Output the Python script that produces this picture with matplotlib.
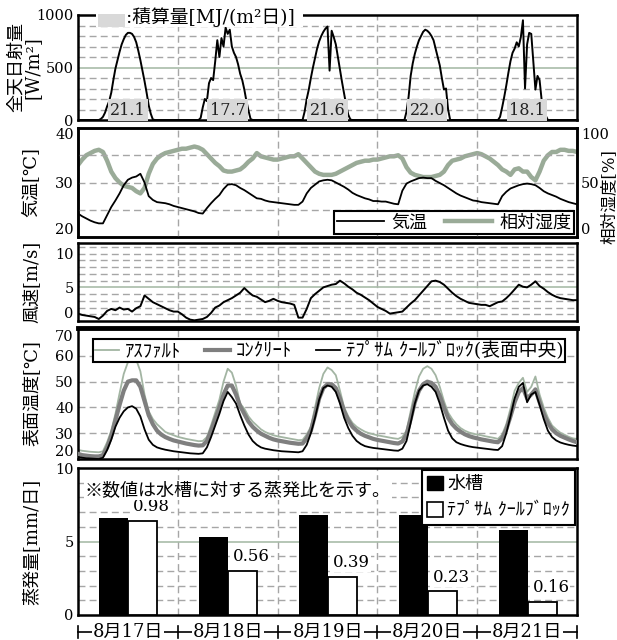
import numpy as np
import matplotlib
matplotlib.use('Agg')
import matplotlib.pyplot as plt
from matplotlib.lines import Line2D
from matplotlib.patches import Patch, Rectangle
import matplotlib.transforms as mtransforms

plt.rcParams['font.family'] = ['DejaVu Serif', 'Noto Sans CJK JP']
plt.rcParams['font.size'] = 13

# ---------------- data ----------------
days = ['8月17日', '8月18日', '8月19日', '8月20日', '8月21日']
daily_total = ['21.1', '17.7', '21.6', '22.0', '18.1']

# solar radiation, half-hourly, per day: (start hour, values)
rad_start = [5.0, 5.0, 6.0, 6.5, 5.0]
rad_d1 = [0, 10, 30, 70, 130, 180, 260, 380, 490, 570, 650, 720, 770, 810, 830, 830,
          820, 790, 740, 660, 570, 470, 370, 260, 140, 60, 5, 0]
rad_d2 = [0, 20, 120, 200, 180, 350, 400, 380, 560, 760, 600, 780, 700, 880, 820, 860,
          700, 640, 600, 530, 440, 380, 290, 180, 90, 10, 0]
rad_d3 = [0, 80, 200, 290, 400, 500, 590, 680, 750, 800, 840, 870, 890, 470, 850, 790,
          720, 600, 480, 360, 250, 140, 50, 5, 0]
rad_d4 = [0, 80, 220, 420, 540, 630, 700, 760, 800, 840, 860, 850, 830, 800, 760, 680,
          600, 520, 400, 290, 300, 100, 0]
rad_d5 = [0, 30, 120, 220, 330, 450, 560, 640, 680, 740, 700, 790, 950, 300, 720, 830,
          820, 560, 290, 420, 380, 190, 30, 40, 0]

# hourly series, t = 0..120 h
air_temp = [24.3, 23.8, 23.4, 23.0, 22.7, 22.5, 22.5, 24.0, 25.5, 26.7, 28.0, 29.5, 30.5, 30.9, 31.1, 31.6, 30.0, 27.5, 26.8, 26.4, 26.3, 26.2, 26.0, 25.7,
            25.5, 25.3, 25.1, 24.9, 24.7, 24.4, 24.3, 25.3, 26.2, 27.0, 27.7, 28.8, 29.6, 29.7, 29.5, 29.0, 28.6, 28.1, 27.6, 27.1, 27.0, 26.7, 26.5, 26.4,
            26.3, 26.2, 26.1, 26.0, 25.9, 25.9, 26.5, 28.0, 29.0, 29.6, 30.2, 30.4, 30.5, 30.4, 30.0, 29.6, 29.2, 28.7, 28.1, 27.7, 27.4, 27.1, 26.9, 26.6,
            26.6, 26.5, 26.5, 26.3, 26.1, 26.0, 28.5, 29.8, 30.2, 30.5, 30.8, 30.9, 30.8, 30.8, 30.3, 29.9, 29.5, 29.0, 28.5, 28.0, 27.6, 27.3, 27.0, 26.7,
            26.6, 26.4, 26.3, 26.2, 26.1, 26.0, 27.5, 28.3, 28.9, 29.2, 29.5, 29.7, 29.8, 29.7, 29.5, 29.0, 28.4, 28.0, 27.7, 27.4, 27.0, 26.7, 26.4, 26.2, 26.0]
rel_hum = [66, 71, 75, 77, 79, 80, 78, 70, 60, 54, 50, 47, 46, 45, 42, 40, 45, 58, 67, 72, 75, 77, 78, 79,
           80, 81, 81, 82, 83, 82, 80, 76, 72, 68, 65, 61, 60, 60, 61, 62, 65, 69, 72, 77, 74, 73, 72, 71,
           71, 72, 73, 74, 74, 76, 72, 68, 64, 60, 58, 57, 57, 57, 58, 60, 62, 64, 66, 68, 69, 70, 70, 71,
           71, 72, 73, 74, 74, 75, 72, 64, 59, 57, 56, 55, 55, 55, 56, 57, 60, 66, 70, 71, 72, 74, 75, 76,
           77, 76, 74, 72, 69, 66, 62, 60, 57, 62, 63, 60, 60, 55, 52, 60, 70, 75, 78, 78, 80, 80, 79, 79, 78]
wind = [1.1, 0.9, 0.8, 0.7, 0.6, 0.3, 0.8, 1.5, 1.8, 1.6, 2.0, 1.7, 1.8, 1.4, 1.9, 2.2, 3.8, 3.3, 2.8, 2.5, 2.2, 1.9, 1.6, 1.4,
        1.4, 1.0, 0.5, 0.2, 0.1, 0.2, 0.3, 0.6, 1.2, 2.0, 2.3, 2.8, 3.1, 3.4, 3.8, 4.2, 4.9, 4.3, 3.8, 3.6, 3.2, 2.8, 3.0, 3.3,
        3.0, 2.8, 2.7, 2.6, 2.4, 0.5, 0.5, 1.8, 3.4, 4.0, 4.5, 5.0, 5.2, 5.4, 5.5, 6.0, 5.6, 5.1, 4.7, 4.2, 3.9, 3.5, 3.1, 2.6,
        2.1, 1.8, 1.5, 1.1, 1.2, 1.3, 1.4, 2.0, 2.6, 3.1, 3.8, 4.5, 5.2, 5.9, 6.0, 5.8, 5.4, 4.8, 4.2, 3.7, 3.3, 3.0, 2.7, 2.6,
        2.5, 2.4, 2.4, 2.2, 2.5, 2.8, 2.9, 3.4, 4.0, 4.7, 5.4, 5.1, 5.0, 5.4, 5.9, 5.2, 4.8, 4.3, 3.9, 3.6, 3.4, 3.3, 3.2, 3.1, 3.1]
asphalt = [23.5, 23.2, 23.0, 22.8, 22.7, 22.6, 23.0, 26.5, 31.0, 37.5, 45.5, 53.0, 57.5, 59.5, 58.5, 54.0, 45.0, 38.5, 35.5, 33.5, 32.0, 30.5, 29.8, 29.2,
           28.6, 28.2, 27.8, 27.5, 27.2, 26.9, 27.0, 28.5, 33.0, 38.0, 43.0, 50.0, 55.0, 53.5, 48.5, 41.5, 39.5, 36.5, 34.5, 33.0, 31.5, 30.5, 29.8, 29.2,
           28.8, 28.5, 28.2, 27.9, 27.6, 27.3, 27.4, 29.5, 32.5, 40.0, 47.5, 53.0, 55.5, 54.5, 52.5, 46.5, 40.0, 36.5, 34.0, 32.5, 31.5, 30.6, 30.0, 29.6,
           29.2, 28.9, 28.6, 28.3, 28.0, 27.8, 28.6, 31.0, 38.5, 46.0, 52.0, 55.0, 56.0, 55.0, 52.5, 48.0, 42.5, 38.0, 35.5, 33.5, 32.0, 31.0, 30.3, 29.8,
           29.5, 29.2, 28.8, 28.5, 28.2, 27.8, 29.5, 33.5, 39.5, 46.5, 49.5, 51.5, 46.0, 48.0, 52.0, 45.0, 40.0, 36.0, 33.0, 31.5, 30.2, 29.4, 28.6, 28.0, 27.8]
concrete = [22.0, 21.5, 21.3, 21.1, 21.0, 21.0, 21.5, 24.5, 29.0, 35.0, 41.0, 46.5, 50.0, 50.5, 50.5, 48.0, 42.5, 37.0, 33.5, 31.0, 29.5, 28.5, 27.8, 27.2,
            26.8, 26.4, 26.0, 25.7, 25.4, 25.2, 25.3, 27.0, 31.0, 35.5, 40.0, 45.0, 48.5, 48.5, 45.0, 40.5, 37.5, 34.5, 32.5, 31.0, 29.8, 29.0, 28.2, 27.6,
            27.2, 26.9, 26.6, 26.3, 26.1, 25.9, 26.0, 28.0, 31.0, 37.0, 43.5, 47.5, 49.0, 49.0, 47.5, 43.5, 38.5, 35.0, 32.5, 31.0, 29.8, 29.0, 28.4, 27.8,
            27.4, 27.1, 26.8, 26.5, 26.2, 26.0, 26.8, 29.5, 35.5, 42.0, 46.5, 49.0, 50.0, 49.5, 48.0, 44.5, 40.0, 36.0, 33.5, 31.8, 30.6, 29.6, 28.9, 28.4,
            28.0, 27.6, 27.3, 27.0, 26.7, 26.5, 28.0, 31.5, 36.5, 42.0, 46.0, 47.5, 43.5, 45.0, 47.0, 42.0, 37.5, 34.0, 31.5, 30.0, 29.0, 28.3, 27.6, 27.0, 26.5]
block = [20.8, 20.5, 20.3, 20.2, 20.1, 20.0, 20.5, 23.5, 27.5, 32.5, 36.0, 38.5, 40.0, 40.5, 39.5, 36.5, 31.5, 27.5, 25.5, 24.5, 24.0, 23.6, 23.3, 23.0,
         22.8, 22.6, 22.4, 22.2, 22.1, 22.0, 22.2, 24.5, 28.5, 33.0, 37.5, 42.5, 46.0, 44.0, 41.5, 37.0, 33.0, 29.5, 27.0, 25.5, 24.5, 24.0, 23.7, 23.4,
         23.2, 23.0, 22.9, 22.8, 22.7, 22.6, 23.0, 25.5, 30.0, 36.0, 43.0, 47.5, 48.5, 48.0, 46.0, 41.5, 36.0, 32.0, 29.0, 27.0, 25.8, 25.0, 24.6, 24.3,
         24.1, 23.9, 23.7, 23.5, 23.3, 23.2, 24.0, 27.0, 34.0, 41.5, 46.5, 48.5, 49.0, 48.0, 46.0, 41.5, 36.0, 31.0, 28.0, 26.5, 25.8, 25.3, 24.9, 24.6,
         24.4, 24.2, 24.0, 23.8, 23.6, 23.5, 25.0, 30.0, 36.5, 43.5, 48.0, 49.5, 42.0, 45.0, 46.0, 41.0, 35.5, 31.0, 28.5, 27.2, 26.4, 25.9, 25.5, 25.2, 25.0]

evap_tank = [6.6, 5.3, 6.8, 6.8, 5.8]
evap_block = [6.4, 3.0, 2.6, 1.6, 0.9]
evap_ratio = ['0.98', '0.56', '0.39', '0.23', '0.16']

# ---------------- assemble time axes ----------------
t_half = np.arange(241) * 0.5 / 24.0
rad = np.zeros(241)
for i, (s, vals) in enumerate(zip(rad_start, [rad_d1, rad_d2, rad_d3, rad_d4, rad_d5])):
    i0 = int(round((i * 24 + s) * 2))
    rad[i0:i0 + len(vals)] = vals
t_hour = np.arange(121) / 24.0

# ---------------- figure ----------------
W, H = 617, 640
fig = plt.figure(figsize=(W / 100, H / 100), dpi=100)
L, R = 78, 577
TICK_FS = 10.5
YLAB_X = -0.093


def make_ax(top, bottom):
    return fig.add_axes([L / W, 1 - bottom / H, (R - L) / W, (bottom - top) / H])


GRID = '#a6a6a6'
GREEN = '#a9bca9'


def style(ax, ylim, dashed, solid=()):
    ax.set_xlim(0, 5)
    ax.set_ylim(*ylim)
    ax.set_xticks([])
    for x in range(1, 5):
        ax.axvline(x, color=GRID, lw=1.0, ls=(0, (5, 3)), zorder=0.5)
    for y in dashed:
        ax.axhline(y, color=GRID, lw=1.0, ls=(0, (5, 3)), zorder=0.5)
    for y in solid:
        ax.axhline(y, color=GREEN, lw=1.2, zorder=0.5)
    for sp in ax.spines.values():
        sp.set_linewidth(1.8)
    ax.tick_params(axis='y', length=0, pad=3, labelsize=TICK_FS)


def edge_va(ax, first=None, last=None):
    labels = ax.get_yticklabels()
    if first:
        labels[0].set_va(first)
    if last:
        labels[-1].set_va(last)


# Panel 1: solar radiation
ax1 = make_ax(15, 120)
style(ax1, (0, 1000), [100, 200, 300, 400, 600, 700, 800, 900], [500])
ax1.set_yticks([0, 500, 1000])
ax1.plot(t_half, rad, color='black', lw=1.4, zorder=3)
for i, s in enumerate(daily_total):
    ax1.text(i + 0.5, 95, s, ha='center', va='center', fontsize=11.5, color='#222222', zorder=5,
             bbox=dict(boxstyle='square,pad=0.15', fc='#d9d9d9', ec='none'))
ax1.set_ylabel('全天日射量\n[W/m²]', fontsize=13, va='center', linespacing=0.9)
ax1.yaxis.set_label_coords(-0.108, 0.5)
# legend for daily totals
ax1.add_patch(Rectangle(((96 - L) / (R - L), 1 - 12 / 105), (303 - 96) / (R - L), 20 / 105,
                        transform=ax1.transAxes, fc='white', ec='none', clip_on=False, zorder=6))
ax1.add_patch(Rectangle(((98 - L) / (R - L), 1 - 12 / 105), 27 / (R - L), 13 / 105,
                        transform=ax1.transAxes, fc='#d9d9d9', ec='none', clip_on=False, zorder=7))
ax1.text((126 - L) / (R - L), 1 - 2 / 105, ':積算量[MJ/(m²日)]', transform=ax1.transAxes,
         ha='left', va='center', fontsize=13.5, zorder=8, clip_on=False)

# Panel 2: air temperature and humidity
ax2 = make_ax(128, 237)
ax2r = ax2.twinx()
style(ax2, (20, 40), [25, 30, 35])
ax2.set_yticks([20, 30, 40])
ax2r.set_ylim(0, 100)
ax2r.set_yticks([0, 50, 100])
ax2r.tick_params(axis='y', length=0, pad=3, labelsize=TICK_FS)
for sp in ax2r.spines.values():
    sp.set_linewidth(1.8)
ax2r.plot(t_hour, rel_hum, color='#9aab98', lw=3.2, zorder=2)
ax2.set_zorder(ax2r.get_zorder() + 1)
ax2.patch.set_visible(False)
ax2.plot(t_hour, air_temp, color='black', lw=1.3, zorder=3)
ax2.set_ylabel('気温[℃]', fontsize=13, va='center')
ax2.yaxis.set_label_coords(YLAB_X, 0.5)
ax2r.set_ylabel('相対湿度[%]', fontsize=12, rotation=90, va='center')
ax2r.yaxis.set_label_coords(1.064, 0.37)
leg2 = ax2.legend([Line2D([], [], color='black', lw=1.3), Line2D([], [], color='#9aab98', lw=3.2)],
                  ['気温', '相対湿度'], ncol=2, loc='lower right', fontsize=13, frameon=True,
                  fancybox=False, edgecolor='black', framealpha=1, borderaxespad=0.15,
                  handlelength=2.6, handletextpad=0.4, columnspacing=1.0, borderpad=0.15)
leg2.get_frame().set_linewidth(1.5)

# Panel 3: wind speed
ax3 = make_ax(243, 321)
style(ax3, (0, 11.6), [1, 2, 3, 4, 6, 7, 8, 9, 10, 11], [5])
ax3.set_yticks([0, 5, 10])
ax3.plot(t_hour, wind, color='black', lw=1.4, zorder=3)
ax3.set_ylabel('風速[m/s]', fontsize=13, va='center')
ax3.yaxis.set_label_coords(YLAB_X, 0.5)

# Panel 4: surface temperature
ax4 = make_ax(328, 459)
style(ax4, (20, 70.8), [30, 40, 50, 60])
ax4.spines['top'].set_linewidth(3.5)
ax4.set_yticks([20, 30, 40, 50, 60, 70])
ax4.plot(t_hour, asphalt, color='#a3b5a3', lw=1.3, zorder=2)
ax4.plot(t_hour, concrete, color='#7f7f7f', lw=3.0, zorder=3)
ax4.plot(t_hour, block, color='black', lw=1.3, zorder=4)
ax4.set_ylabel('表面温度[℃]', fontsize=13, va='center')
ax4.yaxis.set_label_coords(YLAB_X, 0.5)
leg4 = ax4.legend([Line2D([], [], color='#a3b5a3', lw=1.3), Line2D([], [], color='#7f7f7f', lw=3.0),
                   Line2D([], [], color='black', lw=1.3)],
                  ['ｱｽﾌｧﾙﾄ', 'ｺﾝｸﾘｰﾄ', 'ﾃﾌﾟｻﾑ ｸｰﾙﾌﾞﾛｯｸ(表面中央)'], ncol=3, loc='upper center',
                  bbox_to_anchor=(0.503, 0.985), fontsize=13.5, frameon=True, fancybox=False,
                  edgecolor='black', framealpha=1, handlelength=1.3, handletextpad=0.3,
                  columnspacing=1.3, borderpad=0.1)
leg4.get_frame().set_linewidth(1.5)

# Panel 5: evaporation bars
ax5 = make_ax(468, 615)
style(ax5, (0, 10), [1, 2, 3, 4, 6, 7, 8, 9], [5])
ax5.set_yticks([0, 5, 10])
x = np.arange(5)
ax5.bar(x + 0.36, evap_tank, width=0.29, color='black', zorder=3)
ax5.bar(x + 0.65, evap_block, width=0.29, color='white', edgecolor='black', lw=1.3, zorder=3)
for i in range(5):
    ax5.text(i + 0.74, evap_block[i] + 0.95, evap_ratio[i], ha='center', va='center', fontsize=12,
             zorder=4, bbox=dict(boxstyle='square,pad=0.05', fc='white', ec='none'))
ax5.text(0.07, 8.5, '※数値は水槽に対する蒸発比を示す。', ha='left', va='center', fontsize=13, zorder=4,
         bbox=dict(boxstyle='square,pad=0.05', fc='white', ec='none'))
ax5.set_ylabel('蒸発量[mm/日]', fontsize=13, va='center')
ax5.yaxis.set_label_coords(YLAB_X, 0.5)
leg5 = ax5.legend([Patch(fc='black', ec='black'), Patch(fc='white', ec='black', lw=1.2)],
                  ['水槽', 'ﾃﾌﾟｻﾑ ｸｰﾙﾌﾞﾛｯｸ'], loc='upper right', fontsize=13, frameon=True,
                  fancybox=False, edgecolor='black', framealpha=1, borderaxespad=0.1,
                  handlelength=0.9, handleheight=0.9, handletextpad=0.2, borderpad=0.3,
                  labelspacing=0.45)
leg5.get_frame().set_linewidth(1.5)

# date row under the bar chart
trans = mtransforms.blended_transform_factory(ax5.transData, ax5.transAxes)
yl = (615 - 632) / 147
ax5.add_line(Line2D([0, 5], [yl, yl], color='black', lw=1.2, transform=trans, clip_on=False))
for xb in range(6):
    ax5.add_line(Line2D([xb, xb], [yl - 0.04, yl + 0.04], color='black', lw=1.2,
                        transform=trans, clip_on=False))
for i, d in enumerate(days):
    ax5.text(i + 0.5, yl, d, transform=trans, ha='center', va='center', fontsize=13,
             bbox=dict(boxstyle='square,pad=0.05', fc='white', ec='none'), clip_on=False)

# edge tick labels kept inside their panels, as in the reference
edge_va(ax2, 'bottom', 'top')
edge_va(ax2r, 'bottom', 'top')
edge_va(ax4, 'bottom', 'top')
edge_va(ax3, 'bottom', None)

fig.savefig('out.png', dpi=100)
